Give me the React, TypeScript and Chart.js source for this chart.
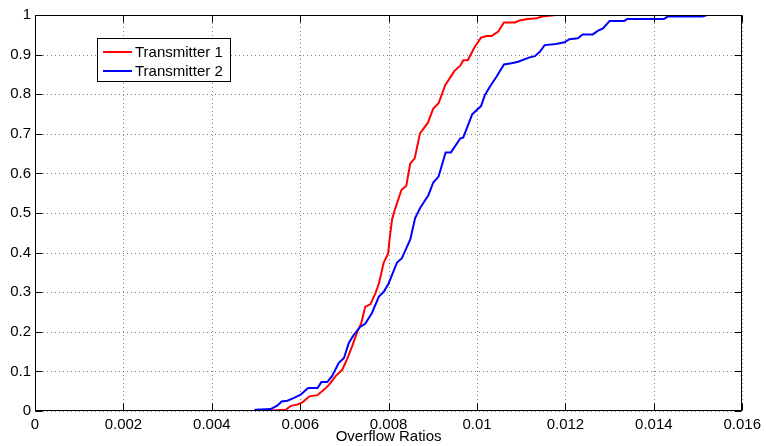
import React, { useEffect, useRef } from "react";
import { Chart, registerables } from "chart.js";

Chart.register(...registerables);

// ---- data ----
const seriesLabels = ["Transmitter 1", "Transmitter 2"];
const seriesColors = ["#ff0000", "#0000ff"];
const xTitle = "Overflow Ratios";

const redX = [
  0, 0.0051, 0.00567, 0.00579, 0.00593, 0.00605, 0.00621, 0.00639, 0.00654, 0.00665,
  0.0068, 0.00695, 0.00706, 0.00717, 0.00729, 0.00738, 0.00747, 0.00759, 0.0077, 0.00778,
  0.00789, 0.00799, 0.00802, 0.00808, 0.00814, 0.00829, 0.0084, 0.00849, 0.00859, 0.00871,
  0.00889, 0.00901, 0.00913, 0.00928, 0.00949, 0.00962, 0.00969, 0.00979, 0.00995, 0.01009,
  0.01022, 0.01033, 0.01048, 0.01061, 0.01086, 0.01096, 0.01115, 0.01135, 0.01147, 0.01179,
  0.016,
];
const redY = [
  0, 0, 0.003, 0.013, 0.016, 0.022, 0.037, 0.04, 0.054, 0.066,
  0.088, 0.104, 0.131, 0.162, 0.2, 0.221, 0.263, 0.27, 0.297, 0.322,
  0.375, 0.398, 0.432, 0.485, 0.508, 0.558, 0.569, 0.625, 0.638, 0.701,
  0.728, 0.764, 0.777, 0.823, 0.859, 0.872, 0.886, 0.886, 0.92, 0.943,
  0.947, 0.947, 0.958, 0.981, 0.981, 0.986, 0.99, 0.992, 0.996, 1,
  1,
];

const blueX = [
  0, 0.00496, 0.00499, 0.00533, 0.00548, 0.00558, 0.00571, 0.00586, 0.00601, 0.00618,
  0.00639, 0.00648, 0.00661, 0.00672, 0.00687, 0.00699, 0.0071, 0.00721, 0.00736, 0.00747,
  0.00762, 0.00778, 0.00789, 0.008, 0.00819, 0.0083, 0.00849, 0.0086, 0.00871, 0.00883,
  0.0089, 0.00901, 0.00913, 0.00929, 0.00941, 0.00962, 0.00969, 0.00989, 0.01009, 0.01018,
  0.01029, 0.01044, 0.01061, 0.01078, 0.01093, 0.01119, 0.01131, 0.01142, 0.01153, 0.01179,
  0.01198, 0.01209, 0.01228, 0.01239, 0.01262, 0.01273, 0.01285, 0.013, 0.01333, 0.0134,
  0.01423, 0.01431, 0.0151, 0.01521, 0.016,
];
const blueY = [
  0, 0, 0.003, 0.005, 0.0135, 0.024, 0.026, 0.033, 0.041, 0.058,
  0.058, 0.073, 0.073, 0.088, 0.121, 0.134, 0.172, 0.192, 0.213, 0.22,
  0.247, 0.289, 0.301, 0.322, 0.375, 0.386, 0.433, 0.487, 0.512, 0.533,
  0.545, 0.577, 0.592, 0.653, 0.653, 0.688, 0.691, 0.749, 0.77, 0.798,
  0.819, 0.844, 0.875, 0.878, 0.882, 0.893, 0.896, 0.907, 0.924, 0.927,
  0.931, 0.939, 0.941, 0.951, 0.951, 0.96, 0.966, 0.985, 0.985, 0.99,
  0.99, 0.996, 0.996, 1, 1,
];

const xMin = 0;
const xMax = 0.016;
const xStep = 0.002;
const yMin = 0;
const yMax = 1;
const yStep = 0.1;

const FONT = '"Liberation Sans", Arial, Helvetica, sans-serif';
const FONT_SIZE = 15;

const fmt = (v: number | string) => String(parseFloat(Number(v).toFixed(6)));

const framePlugin = {
  id: "matlabFrame",
  beforeDatasetsDraw(chart: any) {
    const { ctx, chartArea: a, scales } = chart;
    ctx.save();
    ctx.strokeStyle = "rgba(0,0,0,0.5)";
    ctx.lineWidth = 1;
    ctx.setLineDash([1, 3]);
    scales.x.ticks.forEach((t: any) => {
      const p = Math.round(scales.x.getPixelForValue(t.value)) + 0.5;
      ctx.beginPath();
      ctx.moveTo(p, a.top);
      ctx.lineTo(p, a.bottom);
      ctx.stroke();
    });
    scales.y.ticks.forEach((t: any) => {
      const p = Math.round(scales.y.getPixelForValue(t.value)) + 0.5;
      ctx.beginPath();
      ctx.moveTo(a.left, p);
      ctx.lineTo(a.right, p);
      ctx.stroke();
    });
    ctx.restore();
  },
  afterDatasetsDraw(chart: any) {
    const { ctx, chartArea: a, scales } = chart;
    const L = Math.round(a.left) + 0.5;
    const R = Math.round(a.right) - 0.5;
    const T = Math.round(a.top) + 0.5;
    const B = Math.round(a.bottom) - 0.5;
    const tl = 7;
    ctx.save();
    ctx.setLineDash([]);
    ctx.strokeStyle = "#000";
    ctx.lineWidth = 1;
    ctx.strokeRect(L, T, R - L, B - T);
    ctx.beginPath();
    scales.x.ticks.forEach((t: any) => {
      const p = Math.round(scales.x.getPixelForValue(t.value)) + 0.5;
      ctx.moveTo(p, B);
      ctx.lineTo(p, B - tl);
      ctx.moveTo(p, T);
      ctx.lineTo(p, T + tl);
    });
    scales.y.ticks.forEach((t: any) => {
      const p = Math.round(scales.y.getPixelForValue(t.value)) + 0.5;
      ctx.moveTo(L, p);
      ctx.lineTo(L + tl, p);
      ctx.moveTo(R, p);
      ctx.lineTo(R - tl, p);
    });
    ctx.stroke();

    // legend box (MATLAB style, upper left)
    const bx = 97.5;
    const by = 38.5;
    const bw = 133;
    const bh = 43;
    ctx.fillStyle = "#fff";
    ctx.fillRect(bx, by, bw, bh);
    ctx.strokeStyle = "#000";
    ctx.lineWidth = 1;
    ctx.strokeRect(bx, by, bw, bh);
    ctx.font = `${FONT_SIZE}px ${FONT}`;
    ctx.textBaseline = "middle";
    ctx.textAlign = "left";
    chart.data.datasets.forEach((ds: any, i: number) => {
      const yy = by + 13.5 + i * 19;
      ctx.strokeStyle = ds.borderColor;
      ctx.lineWidth = 2;
      ctx.beginPath();
      ctx.moveTo(103, yy);
      ctx.lineTo(132, yy);
      ctx.stroke();
      ctx.fillStyle = "#000";
      ctx.fillText(ds.label, 135, yy + 0.5);
    });
    ctx.restore();
  },
};

export default function App() {
  const ref = useRef<HTMLCanvasElement | null>(null);

  useEffect(() => {
    if (!ref.current) return;
    const chart = new Chart(ref.current, {
      type: "line",
      data: {
        datasets: [
          {
            label: seriesLabels[0],
            data: redX.map((x, i) => ({ x, y: redY[i] })),
            borderColor: seriesColors[0],
            backgroundColor: seriesColors[0],
            borderWidth: 2,
            pointRadius: 0,
            tension: 0,
            fill: false,
            order: 1,
          },
          {
            label: seriesLabels[1],
            data: blueX.map((x, i) => ({ x, y: blueY[i] })),
            borderColor: seriesColors[1],
            backgroundColor: seriesColors[1],
            borderWidth: 2,
            pointRadius: 0,
            tension: 0,
            fill: false,
            order: 0,
          },
        ],
      },
      options: {
        responsive: false,
        animation: false,
        devicePixelRatio: 1,
        layout: { padding: { top: 15, right: 21, left: 0, bottom: 0 } },
        plugins: {
          legend: { display: false },
          tooltip: { enabled: false },
        },
        scales: {
          x: {
            type: "linear",
            min: xMin,
            max: xMax,
            grid: { display: false, drawTicks: false },
            border: { display: false },
            ticks: {
              stepSize: xStep,
              padding: 5,
              color: "#000",
              font: { family: FONT, size: FONT_SIZE },
              maxRotation: 0,
              autoSkip: false,
              callback: (v: any) => fmt(v),
            },
            title: {
              display: true,
              text: xTitle,
              color: "#000",
              font: { family: FONT, size: 15 },
              padding: { top: 0, bottom: 0 },
            },
            afterFit: (s: any) => {
              s.height = 35;
            },
          },
          y: {
            type: "linear",
            min: yMin,
            max: yMax,
            grid: { display: false, drawTicks: false },
            border: { display: false },
            ticks: {
              stepSize: yStep,
              padding: 4,
              color: "#000",
              font: { family: FONT, size: FONT_SIZE },
              autoSkip: false,
              callback: (v: any) => fmt(v),
            },
            afterFit: (s: any) => {
              s.width = 35;
            },
          },
        },
      },
      plugins: [framePlugin],
    });
    return () => chart.destroy();
  }, []);

  return (
    <div
      style={{
        position: "fixed",
        left: 0,
        top: 0,
        width: 766,
        height: 446,
        background: "#fff",
      }}
    >
      <canvas ref={ref} width={766} height={446} style={{ display: "block" }} />
    </div>
  );
}
